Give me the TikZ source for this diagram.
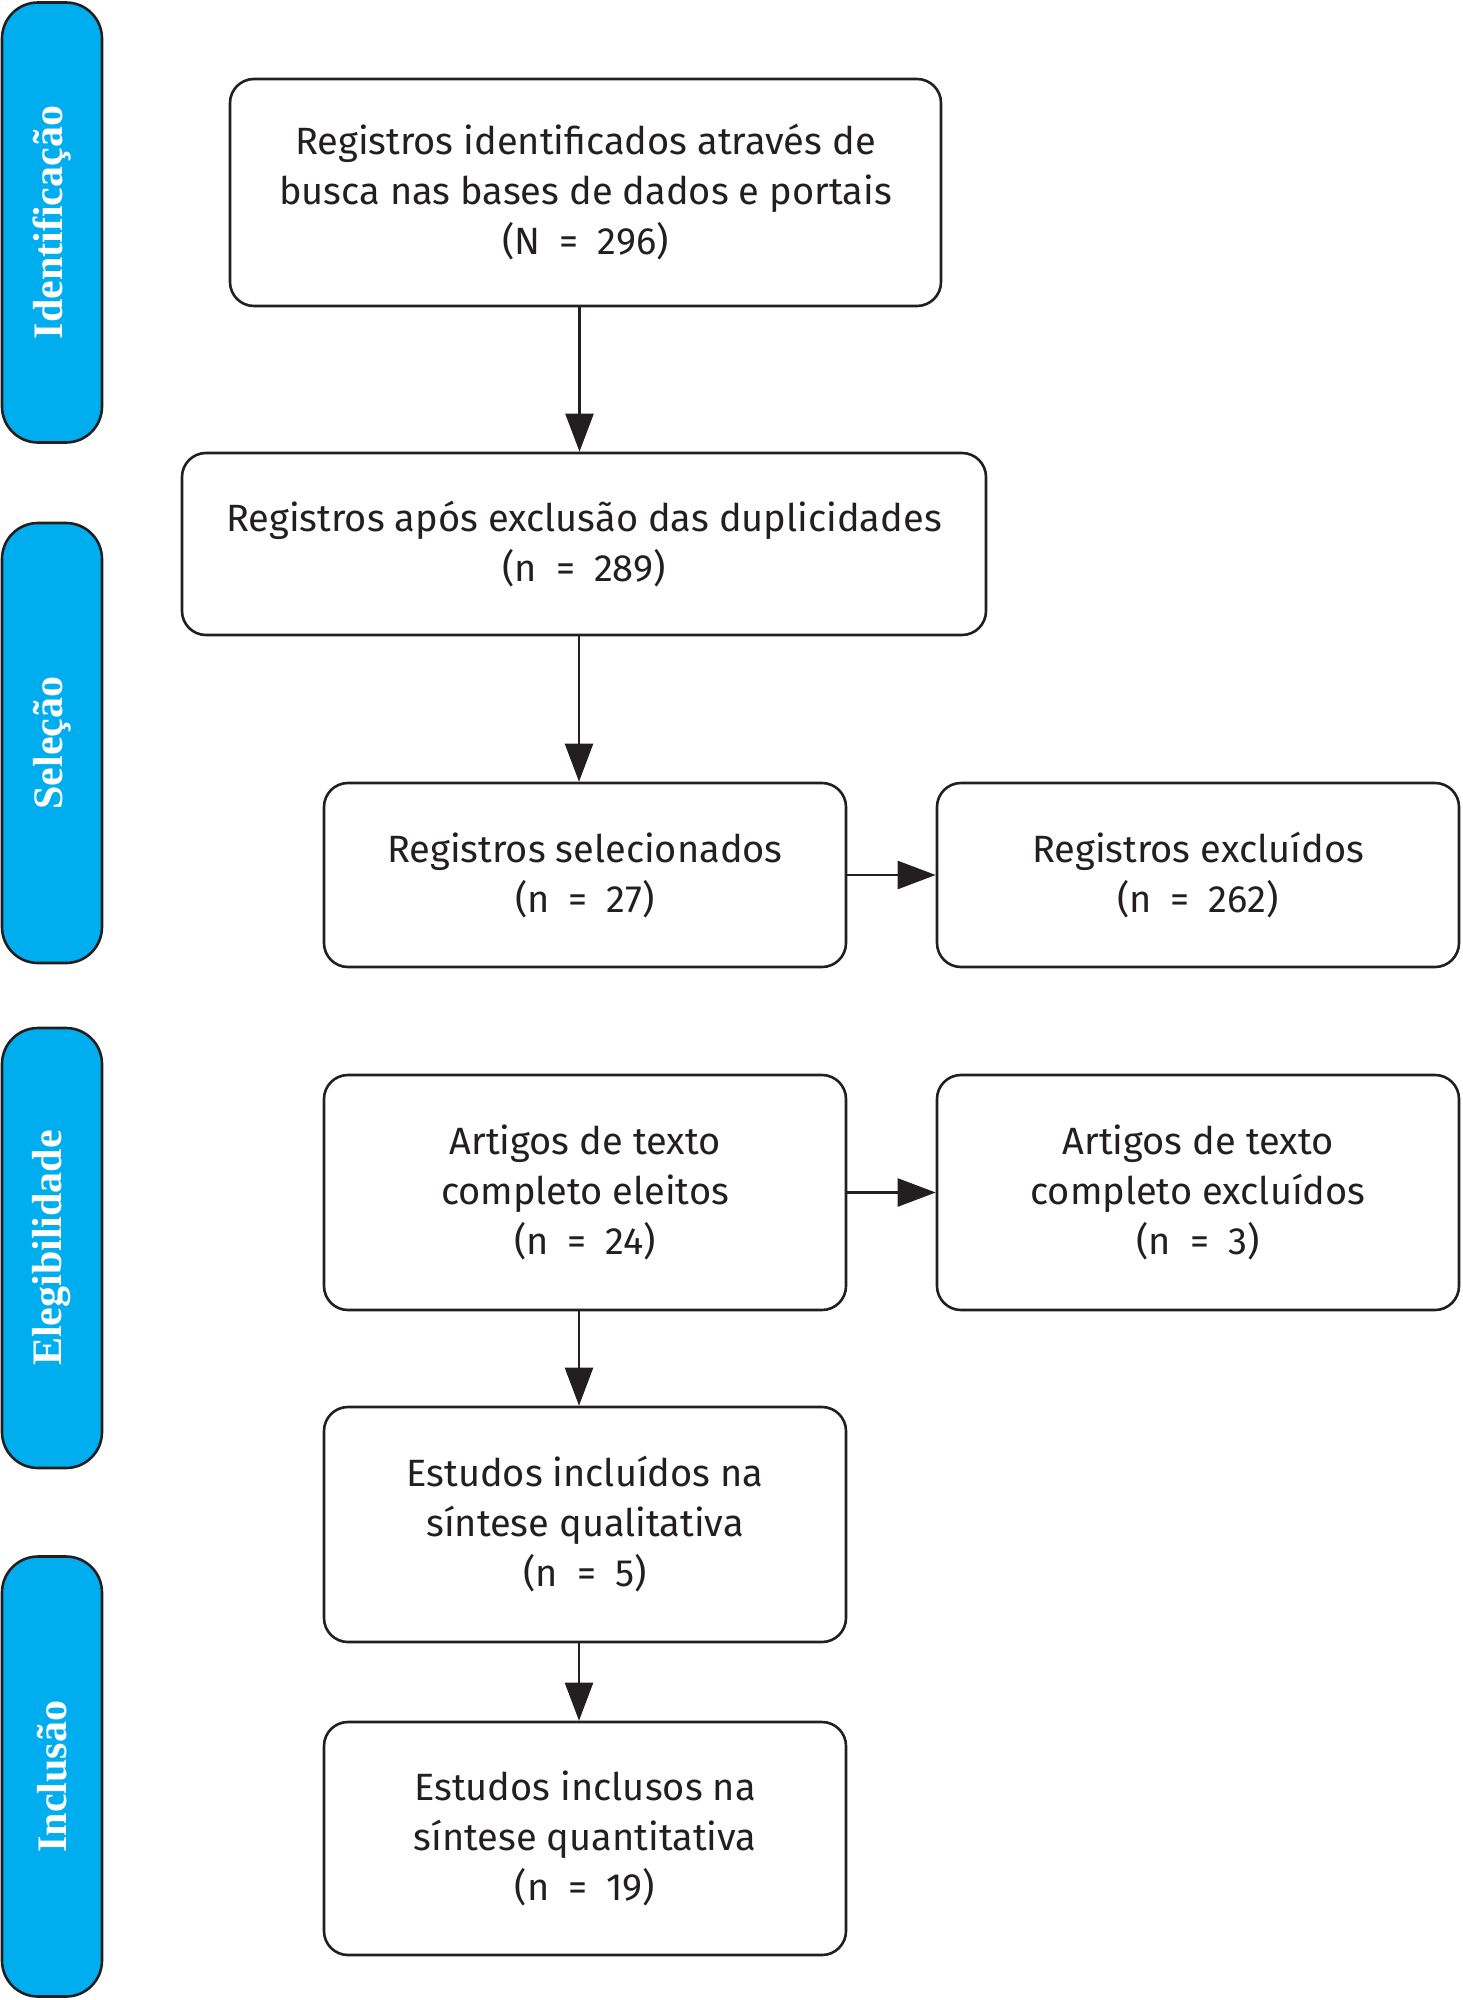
\documentclass[tikz,border=0pt]{standalone}
\usepackage{fontspec}
\setmainfont{Fira Sans}
\newfontfamily\tabfont{Liberation Serif}
\usetikzlibrary{arrows.meta}
\definecolor{tabcyan}{RGB}{0,174,239}
\definecolor{ink}{RGB}{35,31,32}
\newcommand{\eqsp}{\enspace=\enspace}
\begin{document}
\begin{tikzpicture}[x=0.5pt,y=-0.5pt,
  box/.style={draw=ink, line width=1.3pt, rounded corners=12pt, fill=white,
    align=center, text=ink, font=\fontsize{19}{25}\selectfont, inner sep=0pt,
    minimum width=261pt},
  tab/.style={draw=ink, line width=1.3pt, rounded corners=18pt, fill=tabcyan,
    rotate=90, minimum width=220pt, minimum height=50pt, inner sep=0pt,
    text=white, font=\tabfont\bfseries\fontsize{21}{25}\selectfont},
  arr/.style={draw=ink, line width=1.2pt, -{Triangle[length=19pt,width=14pt]}}]
\useasboundingbox (0,0) rectangle (1462,2000);

% phase tabs
\node[tab] (t1) at (52,222.5) {Identificação};
\node[tab] (t2) at (52,743) {Seleção};
\node[tab] (t3) at (52,1248) {Elegibilidade};
\node[tab] (t4) at (52,1776.5) {Inclusão};

% boxes
\node[box, minimum width=355.5pt, minimum height=113.5pt] (b1) at (585.5,192.5)
  {Registros identificados através de\\busca nas bases de dados e portais\\(N\eqsp296)};
\node[box, minimum width=402pt, minimum height=91pt] (b2) at (584,544)
  {Registros após exclusão das duplicidades\\(n\eqsp289)};
\node[box, minimum height=92pt] (b3) at (585,875)
  {Registros selecionados\\(n\eqsp27)};
\node[box, minimum height=92pt] (b4) at (1198,875)
  {Registros excluídos\\(n\eqsp262)};
\node[box, minimum height=117.5pt] (b5) at (585,1192.5)
  {Artigos de texto\\completo eleitos\\(n\eqsp24)};
\node[box, minimum height=117.5pt] (b6) at (1198,1192.5)
  {Artigos de texto\\completo excluídos\\(n\eqsp3)};
\node[box, minimum height=117.5pt] (b7) at (585,1524.5)
  {Estudos incluídos na\\síntese qualitativa\\(n\eqsp5)};
\node[box, minimum height=116.5pt] (b8) at (585,1838.5)
  {Estudos inclusos na\\síntese quantitativa\\(n\eqsp19)};

% connectors
\draw[arr] ([xshift=-3pt]b1.south) -- ([xshift=-3pt]b1.south |- b2.north);
\draw[arr] ([xshift=-2.5pt]b2.south) -- ([xshift=-2.5pt]b2.south |- b3.north);
\draw[arr] (b3.east) -- (b4.west);
\draw[arr] (b5.east) -- (b6.west);
\draw[arr] ([xshift=-3pt]b5.south) -- ([xshift=-3pt]b5.south |- b7.north);
\draw[arr] ([xshift=-3pt]b7.south) -- ([xshift=-3pt]b7.south |- b8.north);
\end{tikzpicture}
\end{document}
